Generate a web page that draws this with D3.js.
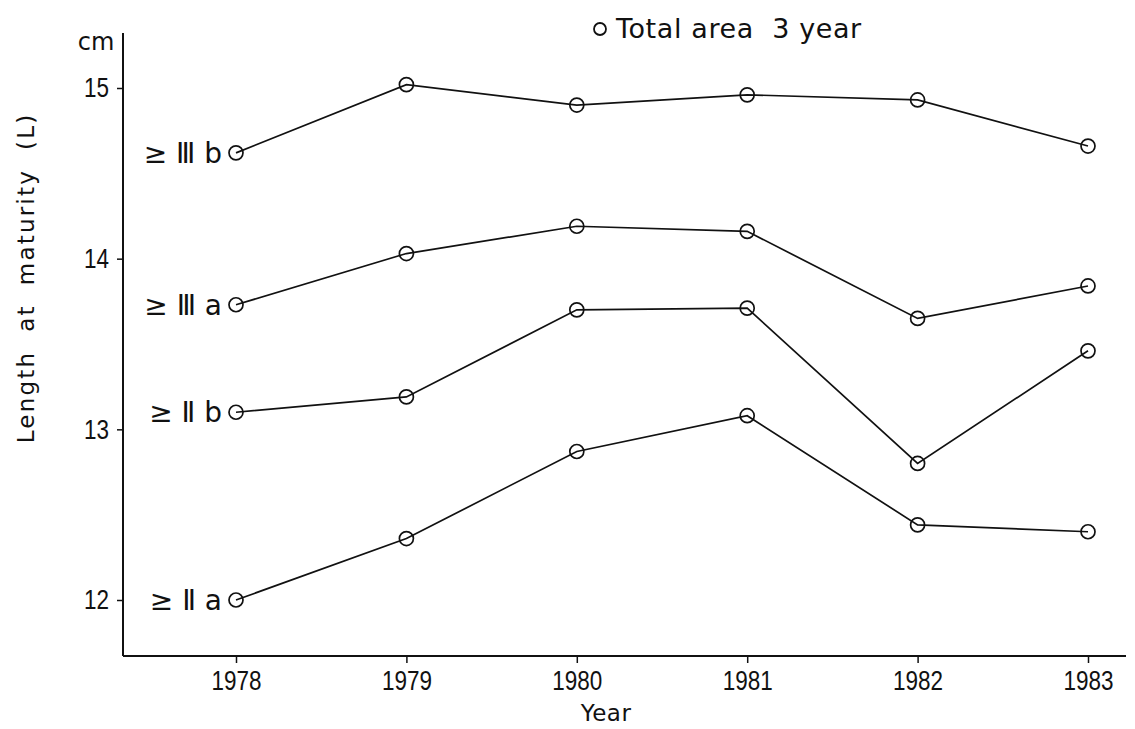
<!DOCTYPE html>
<html>
<head>
<meta charset="utf-8">
<script src="https://cdn.jsdelivr.net/npm/d3@7"></script>
<style>
  html, body { margin: 0; padding: 0; background: #fff; }
  svg { display: block; }
  .num { font-family: "Liberation Sans", "DejaVu Sans", sans-serif; font-size: 28px; fill: #111; }
  .lbl { font-family: "DejaVu Sans", sans-serif; fill: #111; }
</style>
</head>
<body>
<svg id="chart" width="1135" height="729"></svg>
<script>
// Length at maturity by year, one series per maturity stage
const years = [1978, 1979, 1980, 1981, 1982, 1983];
const stageIIIb = [14.62, 15.02, 14.90, 14.96, 14.93, 14.66];
const stageIIIa = [13.73, 14.03, 14.19, 14.16, 13.65, 13.84];
const stageIIb  = [13.10, 13.19, 13.70, 13.71, 12.80, 13.46];
const stageIIa  = [12.00, 12.36, 12.87, 13.08, 12.44, 12.40];
const stageLabels = ["≥ Ⅲ b", "≥ Ⅲ a", "≥ Ⅱ b", "≥ Ⅱ a"];
const yTicks = [12, 13, 14, 15];

const series = [stageIIIb, stageIIIa, stageIIb, stageIIa].map((vals, i) => ({
  label: stageLabels[i],
  points: vals.map((v, j) => ({ year: years[j], value: v }))
}));

const svg = d3.select("#chart");
const axisX = 123, axisY = 656, axisTop = 33, axisRight = 1126;

const x = d3.scaleLinear().domain([1978, 1983]).range([236, 1088]);
const y = d3.scaleLinear().domain([12, 15]).range([600, 88]);

const ink = "#111";

// Axis lines
svg.append("line").attr("x1", axisX).attr("x2", axisX).attr("y1", axisTop).attr("y2", axisY)
  .attr("stroke", ink).attr("stroke-width", 2);
svg.append("line").attr("x1", axisX).attr("x2", axisRight).attr("y1", axisY).attr("y2", axisY)
  .attr("stroke", ink).attr("stroke-width", 2);

// Narrow stencil-like numerals: squeeze each label to a fixed width per digit
function narrow(sel) {
  sel.attr("class", "num").attr("font-size", null).attr("font-family", null)
    .attr("textLength", function () { return this.textContent.length * 12.5; })
    .attr("lengthAdjust", "spacingAndGlyphs");
}

// Y axis ticks
const gy = svg.append("g").attr("transform", `translate(${axisX},0)`)
  .call(d3.axisLeft(y).tickValues(yTicks).tickFormat(d3.format("d")).tickSize(6).tickPadding(8));
gy.select(".domain").remove();
gy.selectAll(".tick line").attr("stroke", ink).attr("stroke-width", 1.5);
gy.selectAll(".tick text").call(narrow);

// X axis ticks
const gx = svg.append("g").attr("transform", `translate(0,${axisY})`)
  .call(d3.axisBottom(x).tickValues(years).tickFormat(d3.format("d")).tickSize(7).tickPadding(6));
gx.select(".domain").remove();
gx.selectAll(".tick line").attr("stroke", ink).attr("stroke-width", 1.5);
gx.selectAll(".tick text").call(narrow).attr("dy", "0.74em");

// Unit label
svg.append("text").attr("class", "lbl").attr("x", 96).attr("y", 50)
  .attr("text-anchor", "middle").attr("font-size", 24).text("cm");

// Axis titles
svg.append("text").attr("class", "lbl").attr("x", 606).attr("y", 721)
  .attr("text-anchor", "middle").attr("font-size", 23).attr("letter-spacing", "0.5px").text("Year");
svg.append("text").attr("class", "lbl")
  .attr("transform", "translate(34,278) rotate(-90)")
  .attr("text-anchor", "middle").attr("font-size", 23).attr("letter-spacing", "2.2px")
  .attr("xml:space", "preserve").style("white-space", "pre")
  .text("Length  at  maturity  (L)");

// Legend
svg.append("circle").attr("cx", 600).attr("cy", 29).attr("r", 6)
  .attr("fill", "none").attr("stroke", ink).attr("stroke-width", 1.8);
svg.append("text").attr("class", "lbl").attr("x", 616).attr("y", 38)
  .attr("font-size", 27).attr("letter-spacing", "0.6px")
  .attr("xml:space", "preserve").style("white-space", "pre")
  .text("Total area  3 year");

// Series lines and markers
const line = d3.line().x(d => x(d.year)).y(d => y(d.value));
const groups = svg.selectAll("g.series").data(series).join("g").attr("class", "series");

groups.append("path")
  .attr("d", d => line(d.points))
  .attr("fill", "none").attr("stroke", ink).attr("stroke-width", 1.7);

groups.selectAll("circle").data(d => d.points).join("circle")
  .attr("cx", d => x(d.year)).attr("cy", d => y(d.value)).attr("r", 7)
  .attr("fill", "none").attr("stroke", ink).attr("stroke-width", 1.7);

groups.append("text").attr("class", "lbl")
  .attr("x", d => x(d.points[0].year) - 14)
  .attr("y", d => y(d.points[0].value))
  .attr("dy", "0.36em")
  .attr("text-anchor", "end").attr("font-size", 28)
  .attr("xml:space", "preserve").style("white-space", "pre")
  .text(d => d.label);
</script>
</body>
</html>
